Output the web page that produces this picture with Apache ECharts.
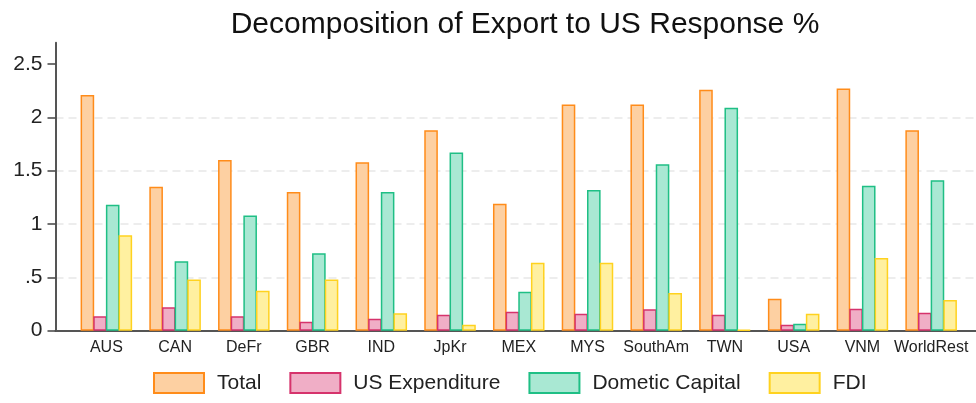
<!DOCTYPE html>
<html>
<head>
<meta charset="utf-8">
<title>Decomposition of Export to US Response %</title>
<script src="https://cdn.jsdelivr.net/npm/echarts@6/dist/echarts.min.js"></script>
<style>
    html, body { margin: 0; padding: 0; background: #fff; }
    #main { width: 976px; height: 403px; }
</style>
</head>
<body>
<div id="main"></div>
<script>
// 数据
var categories = ['AUS', 'CAN', 'DeFr', 'GBR', 'IND', 'JpKr', 'MEX', 'MYS', 'SouthAm', 'TWN', 'USA', 'VNM', 'WorldRest'];
var total = [2.21, 1.35, 1.60, 1.30, 1.58, 1.88, 1.19, 2.12, 2.12, 2.26, 0.30, 2.27, 1.88];
var usExpenditure = [0.135, 0.22, 0.135, 0.085, 0.113, 0.15, 0.178, 0.16, 0.20, 0.15, 0.056, 0.206, 0.169];
var domesticCapital = [1.18, 0.65, 1.08, 0.725, 1.30, 1.67, 0.366, 1.32, 1.56, 2.09, 0.066, 1.36, 1.41];
var fdi = [0.894, 0.48, 0.375, 0.48, 0.163, 0.056, 0.637, 0.637, 0.353, 0.008, 0.16, 0.681, 0.288];
var yTicks = [0, 0.5, 1, 1.5, 2, 2.5];

var font = 'Liberation Sans, Arial, Helvetica, sans-serif';
var yMax = 2.7;

var chart = echarts.init(document.getElementById('main'), null, { renderer: 'canvas' });

function barSeries(name, data, fill, stroke) {
    return {
        name: name,
        type: 'bar',
        xAxisIndex: 0,
        yAxisIndex: 0,
        data: data,
        barWidth: 13.6,
        barGap: '-7%',
        itemStyle: { color: fill, borderColor: stroke, borderWidth: 1.5 }
    };
}

var option = {
    animation: false,
    title: {
        text: 'Decomposition of Export to US Response %',
        left: 520,
        top: 5,
        textAlign: 'center',
        textStyle: { fontFamily: font, fontSize: 30, fontWeight: 'normal', color: '#111' }
    },
    legend: {
        bottom: 4,
        left: 148,
        icon: 'rect',
        itemWidth: 50,
        itemHeight: 20,
        itemGap: 28,
        textStyle: { fontFamily: font, fontSize: 21, color: '#222', padding: [0, 0, 0, 8] },
        data: ['Total', 'US Expenditure', 'Dometic Capital', 'FDI']
    },
    // grid 0: 柱子, grid 1: 坐标轴和网格线
    grid: [
        { left: 72, right: 10.5, top: 42.7, bottom: 72.3 },
        { left: 55.5, right: 0, top: 42.7, bottom: 72.3 }
    ],
    xAxis: [
        {
            type: 'category',
            gridIndex: 0,
            data: categories,
            axisLine: { show: false },
            axisTick: { show: false },
            axisLabel: { fontFamily: font, fontSize: 16, color: '#222', margin: 9, interval: 0 }
        },
        {
            type: 'value',
            gridIndex: 1,
            min: 0,
            max: 1,
            axisLine: { show: true, onZero: false, lineStyle: { color: '#555', width: 2 } },
            axisTick: { show: false },
            axisLabel: { show: false },
            splitLine: { show: false }
        }
    ],
    yAxis: [
        {
            type: 'value',
            gridIndex: 0,
            min: 0,
            max: yMax,
            show: false
        },
        {
            type: 'value',
            gridIndex: 1,
            min: 0,
            max: yMax,
            interval: 0.5,
            axisLine: { show: true, lineStyle: { color: '#555', width: 2 } },
            axisTick: { show: true, length: 8, customValues: yTicks, lineStyle: { color: '#444', width: 1.5 } },
            axisLabel: {
                fontFamily: font,
                fontSize: 21,
                color: '#222',
                margin: 13,
                customValues: yTicks,
                formatter: function (v) {
                    var s = String(v);
                    return s.charAt(0) === '0' && s.length > 1 ? s.substring(1) : s;
                }
            },
            splitLine: { show: true, showMinLine: false, showMaxLine: false, lineStyle: { color: '#e8e8e8', width: 1.5, type: [8, 5] } }
        }
    ],
    series: [
        barSeries('Total', total, '#fdd0a2', '#ff8c1a'),
        barSeries('US Expenditure', usExpenditure, '#f0aec6', '#d6336c'),
        barSeries('Dometic Capital', domesticCapital, '#a9e8d3', '#1fbf85'),
        barSeries('FDI', fdi, '#fff0a0', '#ffd21f')
    ]
};

chart.setOption(option);
</script>
</body>
</html>
